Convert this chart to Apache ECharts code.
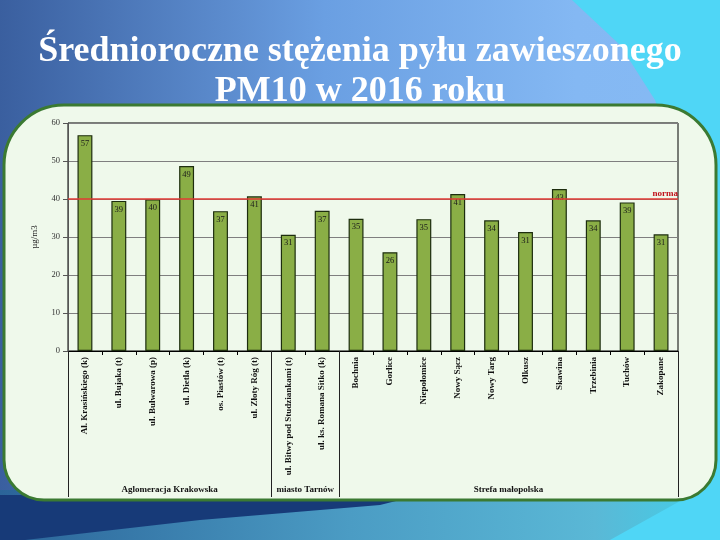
<!DOCTYPE html>
<html>
<head>
<meta charset="utf-8">
<script src="https://cdn.jsdelivr.net/npm/echarts@6/dist/echarts.min.js"></script>
<style>html,body{margin:0;padding:0;}#c{width:720px;height:540px;}</style>
</head>
<body>
<div id="c"></div>
<script>
const categories = [
  'Al. Krasińskiego (k)', 'ul. Bujaka (t)', 'ul. Bulwarowa (p)', 'ul. Dietla (k)',
  'os. Piastów (t)', 'ul. Złoty Róg (t)', 'ul. Bitwy pod Studziankami (t)', 'ul. ks. Romana Sitko (k)',
  'Bochnia', 'Gorlice', 'Niepołomice', 'Nowy Sącz', 'Nowy Targ', 'Olkusz',
  'Skawina', 'Trzebinia', 'Tuchów', 'Zakopane'
];
const values = [56.8, 39.5, 39.9, 48.7, 36.8, 40.7, 30.6, 36.9, 34.8, 26.0, 34.7, 41.3, 34.4, 31.3, 42.6, 34.4, 39.1, 30.7];
const valueLabels = [57, 39, 40, 49, 37, 41, 31, 37, 35, 26, 35, 41, 34, 31, 43, 34, 39, 31];
const groups = ['Aglomeracja Krakowska', 'miasto Tarnów', 'Strefa małopolska'];
const groupSizes = [6, 2, 10];
const normValue = 40;
const yTicks = [0, 10, 20, 30, 40, 50, 60];

const chart = echarts.init(document.getElementById('c'));
const serif = 'Liberation Serif';

const bgGraphics = [
  { type: 'rect', z: -20, silent: true, shape: { x: 0, y: 0, width: 720, height: 540 },
    style: { fill: new echarts.graphic.LinearGradient(0, 0, 1, 0, [
      { offset: 0, color: '#3a5f9f' }, { offset: 0.45, color: '#6a9fe2' }, { offset: 0.8, color: '#84b8f3' }, { offset: 1, color: '#86baf4' }]) } },
  { type: 'polygon', z: -19, silent: true,
    shape: { points: [[572, 0], [720, 0], [720, 540], [610, 540], [650, 470], [690, 300], [680, 170], [655, 100], [620, 45]] },
    style: { fill: '#4fd6f6' } },
  { type: 'polygon', z: -18, silent: true,
    shape: { points: [[0, 490], [700, 490], [610, 540], [0, 540]] },
    style: { fill: new echarts.graphic.LinearGradient(0, 0, 1, 0, [
      { offset: 0, color: '#2b6499' }, { offset: 0.5, color: '#4b9cc4' }, { offset: 0.85, color: '#5ab8d6' }, { offset: 1, color: '#45cde6' }]) } },
  { type: 'polygon', z: -17, silent: true,
    shape: { points: [[0, 330], [0, 540], [25, 540], [200, 520], [380, 505], [420, 495], [0, 495]] },
    style: { fill: '#173a78' } },
  { type: 'rect', z: -10, silent: true, shape: { x: 4, y: 105, width: 712, height: 395, r: [60, 60, 40, 40] },
    style: { fill: '#eff9eb', stroke: '#3b7a32', lineWidth: 3 } }
];

chart.setOption({
  animation: false,
  title: {
    text: 'Średnioroczne stężenia pyłu zawieszonego\nPM10 w 2016 roku',
    left: 'center', top: 27,
    textStyle: { fontFamily: serif, fontSize: 36, fontWeight: 'bold', color: '#ffffff', lineHeight: 40, align: 'center' }
  },
  grid: { left: 68, right: 42, top: 123, bottom: 189, show: true, borderColor: '#000', borderWidth: 1, backgroundColor: 'transparent' },
  xAxis: {
    type: 'category', data: categories,
    axisLine: { lineStyle: { color: '#000', width: 1 } },
    axisTick: { show: true, length: 4, interval: 0, lineStyle: { color: '#000' } },
    axisLabel: { interval: 0, rotate: 90, fontFamily: serif, fontSize: 9, fontWeight: 'bold', color: '#111', margin: 6 }
  },
  yAxis: {
    type: 'value', min: 0, max: 60, interval: 10,
    name: 'µg/m3', nameLocation: 'middle', nameGap: 29, nameRotate: 90,
    nameTextStyle: { fontFamily: serif, fontSize: 9, color: '#222' },
    axisLine: { show: true, lineStyle: { color: '#555' } },
    axisTick: { show: true, length: 5, lineStyle: { color: '#555' } },
    axisLabel: { fontFamily: serif, fontSize: 8.5, color: '#333', margin: 8,
      formatter: v => yTicks.includes(v) ? String(v) : '' },
    splitLine: { show: true, lineStyle: { color: '#7f7f7f', width: 1 } }
  },
  series: [{
    type: 'bar', data: values, barWidth: '44%',
    itemStyle: { color: '#8aae46', borderColor: '#1d2d0e', borderWidth: 1.2 },
    label: { show: true, position: 'insideTop', distance: 4, fontFamily: serif, fontSize: 8.5, color: '#1a1a1a',
      formatter: p => String(valueLabels[p.dataIndex]) },
    markLine: {
      silent: true, symbol: 'none', animation: false,
      lineStyle: { color: '#e23a35', width: 1.5, type: 'solid' },
      label: { show: true, position: 'insideEndTop', formatter: 'norma', color: '#c0101a', fontFamily: serif, fontSize: 9, fontWeight: 'bold', distance: [0, 1] },
      data: [{ yAxis: normValue }]
    }
  }],
  graphic: bgGraphics
});

// separators and group labels below the category labels, positioned via the axis scale
const c0 = chart.convertToPixel({ xAxisIndex: 0 }, 0);
const c1 = chart.convertToPixel({ xAxisIndex: 0 }, 1);
const half = (c1 - c0) / 2;
const axisY = chart.convertToPixel({ yAxisIndex: 0 }, 0);
const extra = [];
let start = 0;
const bounds = [0];
groupSizes.forEach(s => { start += s; bounds.push(start); });
bounds.forEach(b => {
  const x = Math.round(c0 - half + b * 2 * half) + 0.5;
  extra.push({ type: 'line', silent: true, z: 5, shape: { x1: x, y1: axisY, x2: x, y2: 497 }, style: { stroke: '#222', lineWidth: 1 } });
});
groups.forEach((g, i) => {
  const xs = c0 - half + bounds[i] * 2 * half;
  const xe = c0 - half + bounds[i + 1] * 2 * half;
  extra.push({ type: 'text', silent: true, z: 5, x: (xs + xe) / 2, y: 490,
    style: { text: g, fontFamily: serif, fontSize: 9, fontWeight: 'bold', fill: '#111', align: 'center', verticalAlign: 'middle' } });
});
chart.setOption({ graphic: bgGraphics.concat(extra) });
</script>
</body>
</html>
